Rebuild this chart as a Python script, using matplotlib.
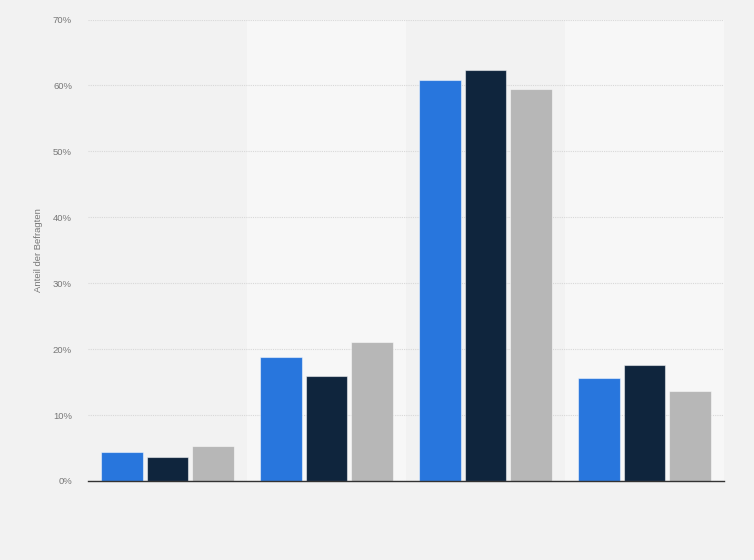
import matplotlib
matplotlib.use("Agg")
import matplotlib.pyplot as plt
import numpy as np

plt.rcParams["font.family"] = ["Liberation Sans", "DejaVu Sans"]

# values (percent of respondents)
categories = ["A", "B", "C", "D"]
series_1 = [4.4, 18.8, 60.8, 15.6]   # blue
series_2 = [3.6, 16.0, 62.4, 17.6]   # dark navy
series_3 = [5.3, 21.1, 59.4, 13.7]   # grey
y_ticks = [0, 10, 20, 30, 40, 50, 60, 70]

colors = ["#2876dd", "#0f253d", "#b7b7b7"]
BG = "#f2f2f2"
BAND = "#f7f7f7"

fig = plt.figure(figsize=(7.54, 5.6), dpi=100, facecolor=BG)
ax = fig.add_axes([88 / 754, 79 / 560, 636 / 754, 461.5 / 560])
ax.set_facecolor(BG)

x = np.arange(len(categories))
width = 0.264
step = 0.289

# alternating lighter bands behind every second group
for i in x:
    if i % 2 == 1:
        ax.axvspan(i - 0.5, i + 0.5, color=BAND, zorder=0, lw=0)

for k, (vals, c) in enumerate(zip([series_1, series_2, series_3], colors)):
    ax.bar(x + (k - 1) * step, vals, width=width, color=c,
           edgecolor=(1, 1, 1, 0.5), linewidth=0.8, zorder=3)

ax.set_xlim(-0.5, 3.5)
ax.set_ylim(0, 70)
ax.set_yticks(y_ticks)
ax.set_yticklabels([f"{t}%" for t in y_ticks])
ax.set_xticks([])

ax.grid(axis="y", color="#d8d8d8", linestyle=(0, (1, 1)), linewidth=0.8, zorder=1)
for s in ["top", "right", "left"]:
    ax.spines[s].set_visible(False)
ax.spines["bottom"].set_color("#333333")
ax.spines["bottom"].set_linewidth(1.0)
ax.spines["bottom"].set_zorder(4)

ax.tick_params(axis="y", length=0, pad=11.5, labelsize=6.8, labelcolor="#777777")
ax.set_ylabel("Anteil der Befragten", fontsize=6.8, color="#777777", labelpad=7)

fig.savefig("out.png", dpi=100, facecolor=BG)
